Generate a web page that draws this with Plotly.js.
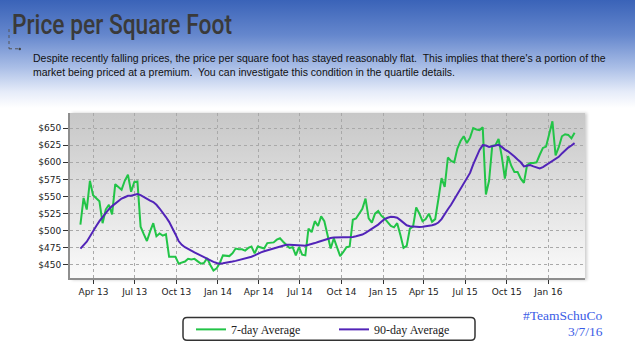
<!DOCTYPE html>
<html><head><meta charset="utf-8">
<script src="https://cdn.plot.ly/plotly-3.0.1.min.js"></script>
<style>
html,body{margin:0;padding:0;width:635px;height:356px;overflow:hidden;}
body{background:linear-gradient(to bottom,#3a63b8 0px,#6587cd 35px,#abbfe7 68px,#e6ecf9 92px,#ffffff 108px);}
#bg{position:absolute;left:70px;top:113px;width:515px;height:167px;background:linear-gradient(to bottom,#c7c7c7,#fbfbfb);box-shadow:2px 0 3px rgba(0,0,0,0.2);}
#chart{position:absolute;left:0;top:0;width:635px;height:356px;}
</style></head>
<body><div id="bg"></div><div id="chart"></div>
<script>
// ---- data ----
const startDate = '2013-03-03';   // first weekly observation
const seriesNames = ['7-day Average', '90-day Average'];
const sevenDay = [509,548,531,573,552,548,543,511,531,538,524,568,564,560,573,582,557,571,572,506,
495,485,499,511,492,496,493,495,462,462,462,452,453,455,459,458,459,455,452,453,
460,450,442,445,453,464,464,463,467,474,473,473,471,475,477,467,477,476,474,482,
483,483,487,489,484,480,475,476,464,476,465,464,503,498,514,507,521,514,494,474,
489,477,463,469,476,477,516,518,525,532,547,518,512,525,529,522,518,512,507,505,
511,494,475,478,503,506,534,525,514,517,525,513,517,546,577,564,607,602,600,620,
631,638,628,636,650,648,647,651,553,573,624,625,634,609,576,609,595,586,586,576,
570,596,599,599,600,611,621,623,643,660,610,622,638,641,640,635,643];
const ninetyDay = [474,479.5,484,491.5,500,507,514,520,527,531.5,536,540,543.5,547,549,551,551,552,553.5,552,
549,546,544,542,538,532.5,527,520,513,504.5,495,485,479.5,476,473,471,468.5,466,463.5,461,
459,456.5,454.5,453,452,452.5,453,453.5,455,456,457,458,459,460.5,462,464,466.5,468.5,470,471.5,
473,474,476,477.5,478.5,479.5,479.5,479.5,479.5,479,478.5,478,479,480.5,482,483.5,485,487,488.5,489.5,
490,490.5,490.5,490.5,490.5,490.5,491,492,493,494.5,497,500,502.5,506,509,513,517,519,520.5,520,
519,515.5,511.5,508,506.5,506,506,505.5,506,506.5,507,508,509.5,512,517,525,531.5,538,546,553,
560.5,568.5,576,584.5,597,609,618,625,624.5,622.5,623.5,625,625.5,622.5,618.5,616,612.5,608.5,604,600,
594,594.5,596,594,592.5,591,593,596,599.5,603,605.5,608,613,617.5,621.5,624.5,628];
const xRange = ['2013-02-08', '2016-03-22'];
const yRange = [431, 672];
const titleText = 'Price per Square Foot';
const subtitleLines = ["Despite recently falling prices, the price per square foot has stayed reasonably flat.  This implies that there's a portion of the",
  "market being priced at a premium.  You can investigate this condition in the quartile details."];
const tagLines = ['#TeamSchuCo', '3/7/16'];

// weekly dates
const dates = [];
{ const d0 = new Date(startDate + 'T00:00:00Z');
  for (let i = 0; i < sevenDay.length; i++) {
    const d = new Date(d0.getTime() + i * 7 * 86400000);
    dates.push(d.toISOString().slice(0, 10));
  } }

// ---- layout helpers (pixel -> paper) ----
const L = 70, R = 585, T = 113, B = 280;
const PX = v => (v - L) / (R - L);
const PY = v => (B - v) / (B - T);
function roundRect(x0, y0, x1, y1, r) {
  const p = (x, y) => PX(x) + ',' + PY(y);
  return 'M' + p(x0 + r, y0) + ' L' + p(x1 - r, y0) + ' Q' + p(x1, y0) + ' ' + p(x1, y0 + r) +
    ' L' + p(x1, y1 - r) + ' Q' + p(x1, y1) + ' ' + p(x1 - r, y1) + ' L' + p(x0 + r, y1) +
    ' Q' + p(x0, y1) + ' ' + p(x0, y1 - r) + ' L' + p(x0, y0 + r) + ' Q' + p(x0, y0) + ' ' + p(x0 + r, y0) + ' Z';
}

const traces = [
  {x: dates, y: sevenDay, name: seriesNames[0], type: 'scatter', mode: 'lines',
   line: {color: '#22c447', width: 2}},
  {x: dates, y: ninetyDay, name: seriesNames[1], type: 'scatter', mode: 'lines',
   line: {color: '#5224b8', width: 2}}
];

const tickFont = {family: 'DejaVu Sans, Verdana, sans-serif', size: 9, color: '#222'};
const layout = {
  width: 635, height: 356,
  margin: {l: L, r: 635 - R, t: T, b: 356 - B, pad: 0},
  paper_bgcolor: 'rgba(0,0,0,0)', plot_bgcolor: 'rgba(0,0,0,0)',
  title: {text: titleText, x: 12 / 635, xanchor: 'left', xref: 'container',
          y: 1 - 24 / 356, yanchor: 'middle', yref: 'container',
          font: {family: 'Roboto, sans-serif', size: 28, weight: 500, color: '#3a3a3a'}},
  xaxis: {type: 'date', range: xRange, dtick: 'M3', tick0: '2013-01-01', tickformat: '%b %y',
          showgrid: true, gridcolor: '#a9a9a9', griddash: 'dot', gridwidth: 1,
          showline: true, linecolor: '#8e8e8e', linewidth: 2, ticks: 'outside', ticklen: 4,
          tickcolor: '#333', tickfont: tickFont, zeroline: false, fixedrange: true},
  yaxis: {range: yRange, tick0: 450, dtick: 25, tickprefix: '$',
          showgrid: true, gridcolor: '#a9a9a9', griddash: 'dot', gridwidth: 1,
          showline: true, linecolor: '#8e8e8e', linewidth: 2, ticks: 'outside', ticklen: 5,
          tickcolor: '#333', tickfont: tickFont, zeroline: false, fixedrange: true},
  showlegend: true,
  legend: {orientation: 'h', x: PX(191), xanchor: 'left', y: PY(332), yanchor: 'middle',
           bgcolor: 'rgba(0,0,0,0)', borderwidth: 0, entrywidthmode: 'pixels', entrywidth: 98,
           font: {family: 'Liberation Serif, DejaVu Serif, serif', size: 12, color: '#222'}},
  shapes: [
    {type: 'path', xref: 'paper', yref: 'paper', path: roundRect(183, 320, 475, 343, 4),
     fillcolor: '#ffffff', line: {color: '#333', width: 1.5}, layer: 'below'},
    {type: 'line', xref: 'paper', yref: 'paper', x0: PX(9), x1: PX(9), y0: PY(28), y1: PY(48),
     line: {color: '#555', width: 1, dash: 'dot'}},
    {type: 'line', xref: 'paper', yref: 'paper', x0: PX(9), x1: PX(18), y0: PY(48), y1: PY(48),
     line: {color: '#555', width: 1, dash: 'dot'}},
    {type: 'circle', xref: 'paper', yref: 'paper', x0: PX(18.5), x1: PX(21), y0: PY(47), y1: PY(49.5),
     fillcolor: '#444', line: {width: 0}}
  ],
  annotations: [
    {text: subtitleLines.join('<br>'), xref: 'paper', yref: 'paper', x: PX(31), y: PY(49),
     xanchor: 'left', yanchor: 'top', align: 'left', showarrow: false,
     font: {family: 'Liberation Sans, Arial, sans-serif', size: 10.5, color: '#111'}},
    {text: tagLines[0], xref: 'paper', yref: 'paper', x: PX(605), y: PY(318),
     xanchor: 'right', yanchor: 'middle', showarrow: false,
     font: {family: 'Liberation Serif, serif', size: 13.5, color: '#3b5ce6'}},
    {text: tagLines[1], xref: 'paper', yref: 'paper', x: PX(605), y: PY(334),
     xanchor: 'right', yanchor: 'middle', showarrow: false,
     font: {family: 'Liberation Serif, serif', size: 13.5, color: '#3b5ce6'}}
  ]
};
Plotly.newPlot('chart', traces, layout, {displayModeBar: false, staticPlot: true}).then(gd => {
  // narrow the title to the reference's condensed width
  const t = gd.querySelector('.gtitle');
  if (t) { t.setAttribute('textLength', '220'); t.setAttribute('lengthAdjust', 'spacingAndGlyphs'); }
});
</script>
</body></html>
